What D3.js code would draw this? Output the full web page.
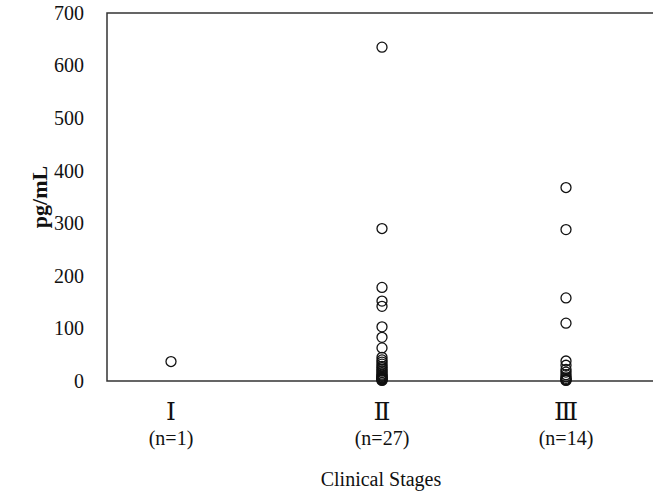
<!DOCTYPE html>
<html>
<head>
<meta charset="utf-8">
<script src="https://cdn.jsdelivr.net/npm/d3@7"></script>
<style>
  body { margin: 0; background: #fff; }
  text { font-family: "Liberation Serif", "DejaVu Serif", serif; fill: #111; }
</style>
</head>
<body>
<div id="chart"></div>
<script>
var stages = ["Ⅰ", "Ⅱ", "Ⅲ"];
var stageCounts = ["(n=1)", "(n=27)", "(n=14)"];
var yTicks = [0, 100, 200, 300, 400, 500, 600, 700];

// pg/mL per patient
var stageI = [37];
var stageII = [635, 290, 178, 152, 142, 103, 83, 63,
    45, 40, 36, 32, 28, 25, 22, 19, 16, 13, 11, 9, 7, 6, 5, 4, 3, 2, 1];
var stageIII = [368, 288, 158, 110, 38, 30, 22, 17, 12, 8, 5, 3, 2, 1];

function init() {
    var w = 653;
    var h = 491;
    var left = 107, top = 13, bottom = 381, right = 653;

    var svg = d3.select("#chart")
        .append("svg")
        .attr("width", w)
        .attr("height", h);

    var y = d3.scaleLinear().domain([0, 700]).range([bottom, top]);
    var x = d3.scaleOrdinal().domain(stages).range([171, 382, 566]);

    // frame: left, top and bottom lines
    svg.append("path")
        .attr("d", "M" + right + "," + top + "H" + left + "V" + bottom + "H" + right)
        .attr("fill", "none")
        .attr("stroke", "#333")
        .attr("stroke-width", 1.5);

    var yAxis = d3.axisLeft(y).tickValues(yTicks).tickSize(0).tickPadding(23);
    var gy = svg.append("g")
        .attr("transform", "translate(" + left + ",0)")
        .call(yAxis);
    gy.select(".domain").remove();
    gy.selectAll("text")
        .attr("font-family", "Liberation Serif, DejaVu Serif, serif")
        .attr("font-size", "20px")
        .attr("fill", "#111");

    svg.append("text")
        .attr("transform", "translate(47," + ((top + bottom) / 2) + ") rotate(-90)")
        .attr("text-anchor", "middle")
        .attr("font-size", "22px")
        .attr("font-weight", "bold")
        .text("pg/mL");

    svg.selectAll("text.stage")
        .data(stages)
        .enter()
        .append("text")
        .attr("class", "stage")
        .attr("x", function (d) { return x(d); })
        .attr("y", 420)
        .attr("text-anchor", "middle")
        .attr("font-size", "25px")
        .text(function (d) { return d; });

    svg.selectAll("text.count")
        .data(stageCounts)
        .enter()
        .append("text")
        .attr("class", "count")
        .attr("x", function (d, i) { return x(stages[i]); })
        .attr("y", 445)
        .attr("text-anchor", "middle")
        .attr("font-size", "20px")
        .text(function (d) { return d; });

    svg.append("text")
        .attr("x", 381)
        .attr("y", 486)
        .attr("text-anchor", "middle")
        .attr("font-size", "20px")
        .text("Clinical Stages");

    var points = [];
    [stageI, stageII, stageIII].forEach(function (vals, i) {
        vals.forEach(function (v) { points.push({ stage: stages[i], value: v }); });
    });

    svg.selectAll("circle")
        .data(points)
        .enter()
        .append("circle")
        .attr("cx", function (d) { return x(d.stage); })
        .attr("cy", function (d) { return y(d.value); })
        .attr("r", 5)
        .attr("fill", "none")
        .attr("stroke", "#111")
        .attr("stroke-width", 1.3);
}
window.onload = init;
</script>
</body>
</html>
